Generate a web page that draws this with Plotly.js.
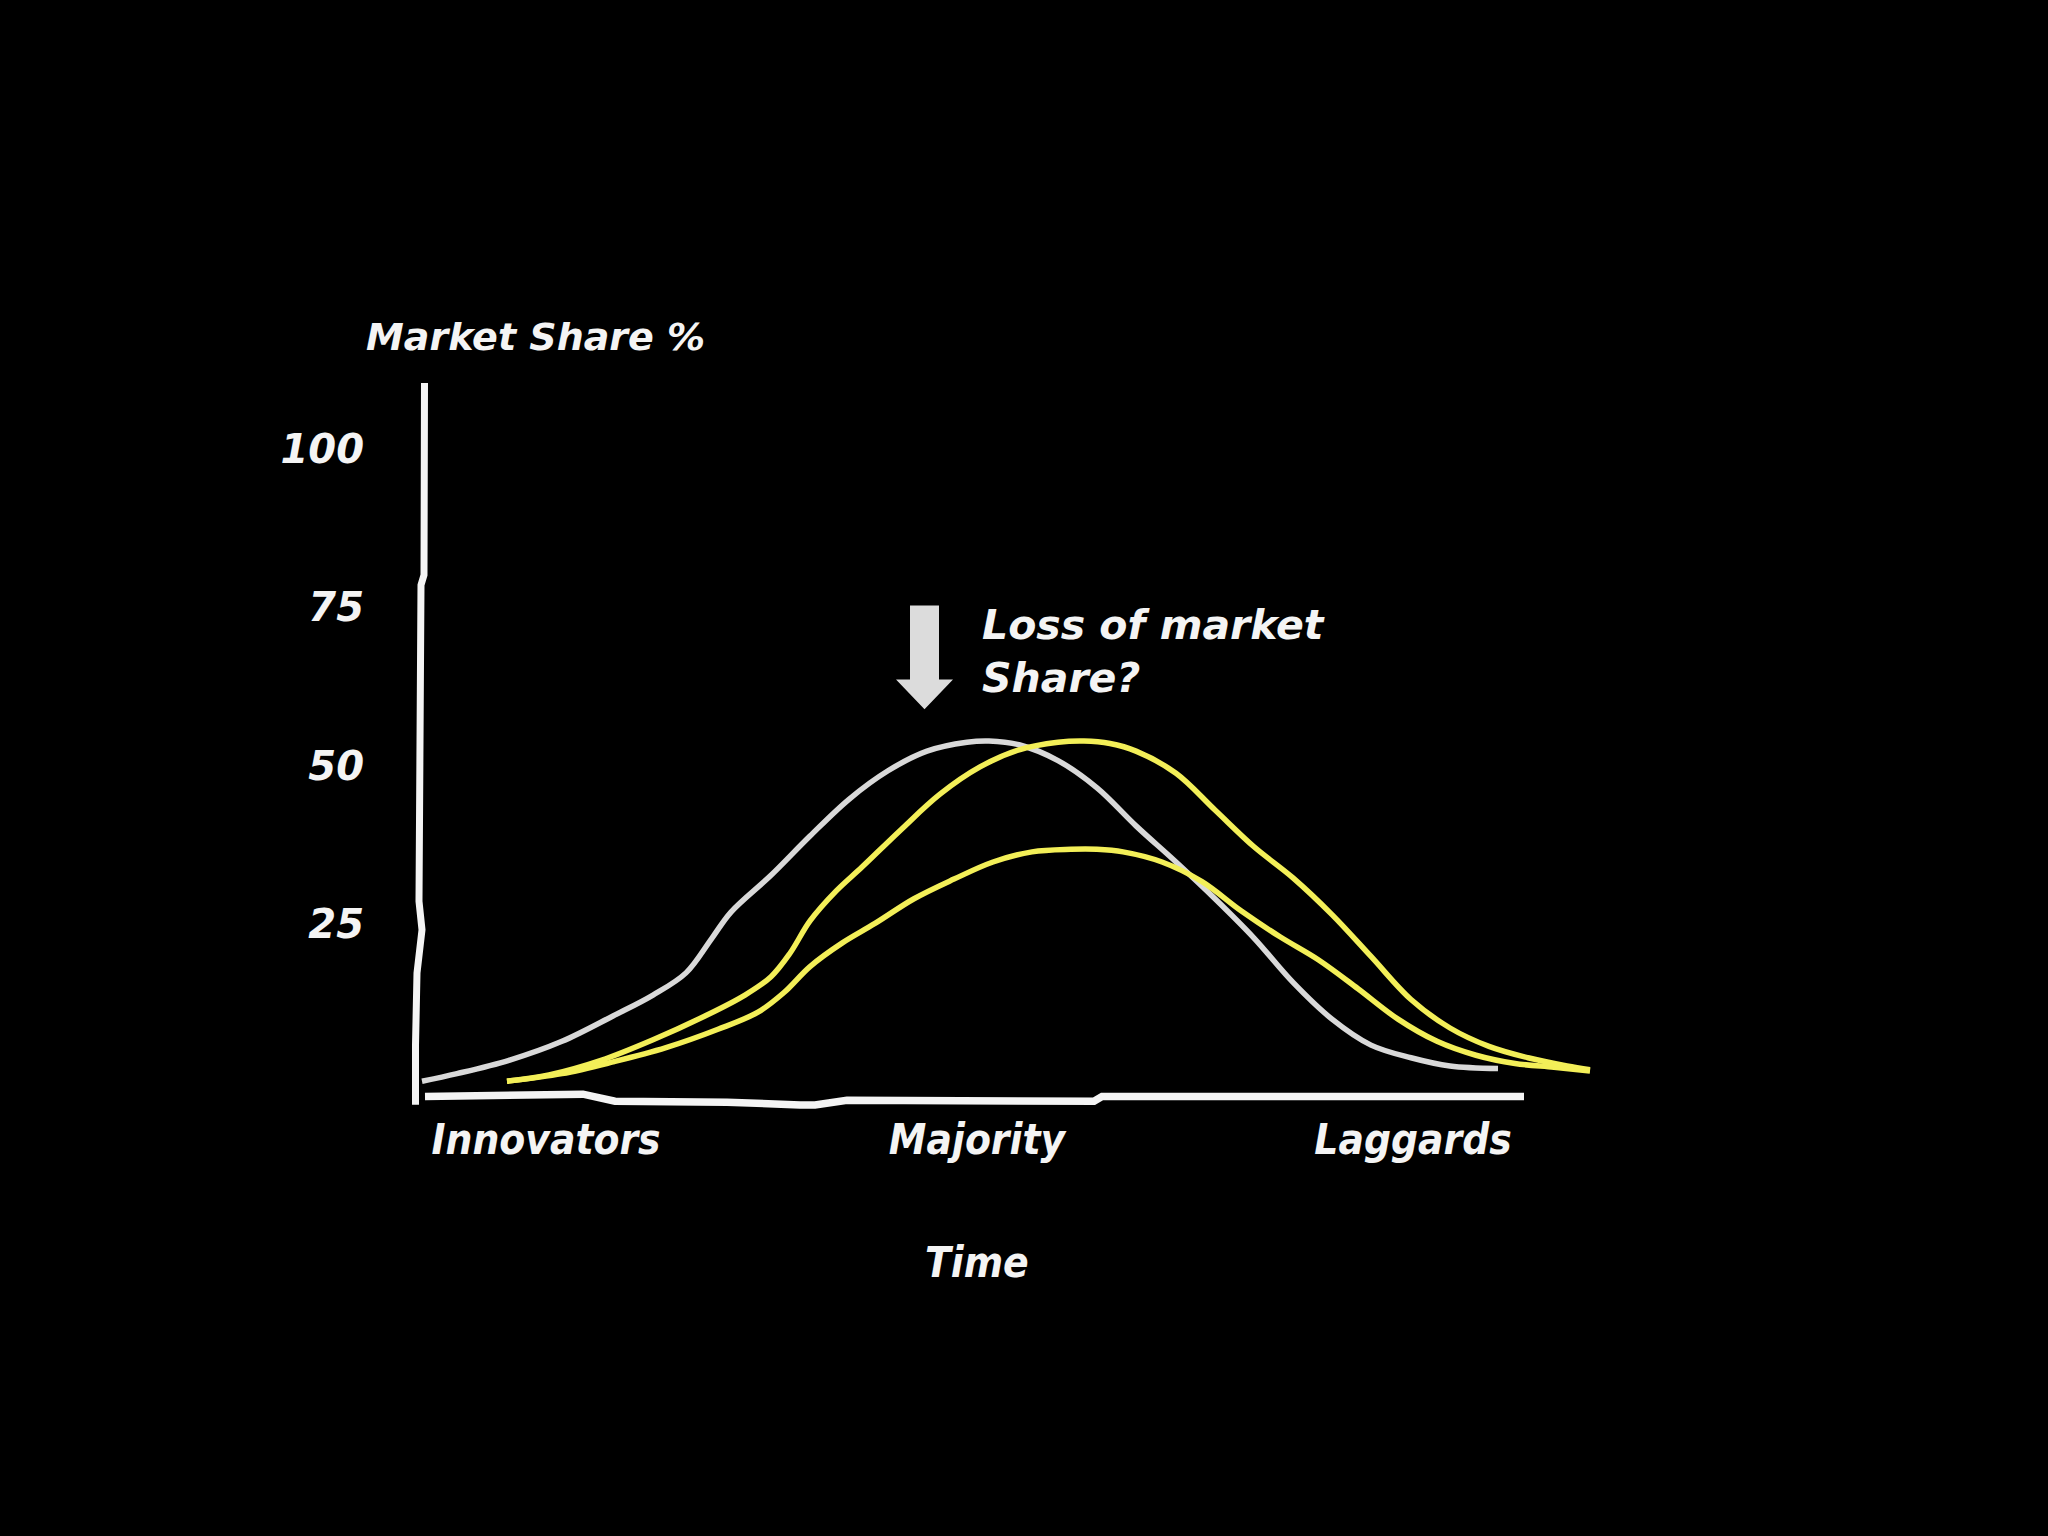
<!DOCTYPE html>
<html>
<head>
<meta charset="utf-8">
<script src="https://cdn.plot.ly/plotly-3.0.1.min.js"></script>
<style>html,body{margin:0;padding:0;background:#000;}#chart{width:2048px;height:1536px;}</style>
</head>
<body>
<div id="chart"></div>
<script>
// Time position (arbitrary units) and market share % values
const incumbentX = [0, 3.5, 8.7, 14.0, 19.1, 23.1, 26.4, 29.0, 30.9, 34.9, 38.8, 42.7, 46.6, 50.5, 54.5, 56.7, 59.7, 63.6, 67.5, 71.4, 75.4, 79.3, 83.2, 87.1, 91.0, 94.9, 98.9, 102.8, 107.6];
const incumbentY = [0.2, 1.4, 3.5, 6.5, 10.5, 13.8, 17.3, 22.8, 26.9, 32.7, 38.9, 44.7, 49.2, 52.3, 53.7, 53.9, 53.3, 50.8, 46.5, 40.5, 34.8, 29.0, 22.8, 15.8, 10.0, 5.9, 3.9, 2.6, 2.2];

const newcomerX = [8.5, 12.7, 17.9, 23.1, 28.3, 32.3, 34.9, 36.8, 38.8, 41.4, 44.0, 47.9, 51.8, 55.8, 59.7, 63.6, 66.2, 68.8, 71.4, 75.4, 79.3, 83.2, 87.1, 91.0, 94.9, 98.9, 102.8, 106.7, 110.6, 114.5, 116.8];
const newcomerY = [0.2, 1.2, 3.5, 6.75, 10.5, 13.8, 16.7, 20.4, 25.5, 30.2, 34.0, 39.9, 45.5, 49.8, 52.5, 53.7, 53.9, 53.5, 52.3, 48.8, 43.0, 37.2, 32.3, 26.5, 19.9, 13.1, 8.6, 5.7, 3.9, 2.6, 2.0];

const reducedX = [8.5, 14.0, 19.1, 24.4, 29.6, 33.6, 36.2, 38.8, 42.0, 45.3, 49.2, 53.2, 57.1, 61.0, 64.9, 67.5, 70.1, 74.0, 78.0, 81.9, 85.8, 89.7, 93.6, 97.6, 101.5, 105.4, 109.3, 113.2, 116.8];
const reducedY = [0.2, 1.4, 3.25, 5.5, 8.4, 11.1, 14.2, 18.3, 22.0, 25.1, 29.0, 32.1, 34.8, 36.4, 36.8, 36.8, 36.4, 34.8, 31.7, 27.1, 23.0, 19.3, 14.8, 10.0, 6.5, 4.3, 3.0, 2.4, 1.8];

const yTickVals = [25, 50, 75, 100];
const yTickText = ['25', '50', '75', '100'];
const xTickVals = [12.4, 55.5, 99.1];
const xTickText = ['Innovators', 'Majority', 'Laggards'];
const xAxisTitle = 'Time';
const yAxisTitle = 'Market Share %';
const calloutText = 'Loss of market<br>Share?';

const FONT = '"DejaVu Sans", "Liberation Sans", sans-serif';
const CFONT = '"DejaVu Sans Condensed", "DejaVu Sans", sans-serif';
const WHITE = '#f4f4f4';
const GREY = '#d9d9d9';
const YELLOW = '#f3ef58';

const traces = [
  {x: incumbentX, y: incumbentY, mode: 'lines', line: {color: GREY, width: 5.5, shape: 'spline', smoothing: 1}, hoverinfo: 'skip'},
  {x: newcomerX, y: newcomerY, mode: 'lines', line: {color: YELLOW, width: 5.5, shape: 'spline', smoothing: 1}, hoverinfo: 'skip'},
  {x: reducedX, y: reducedY, mode: 'lines', line: {color: YELLOW, width: 5.5, shape: 'spline', smoothing: 1}, hoverinfo: 'skip'}
];

const layout = {
  width: 2048, height: 1536,
  paper_bgcolor: '#000', plot_bgcolor: '#000',
  showlegend: false,
  margin: {l: 407, r: 426, t: 382.5, b: 425, pad: 0},
  title: {
    text: yAxisTitle,
    font: {family: FONT, size: 38, color: WHITE, style: 'italic', weight: 'bold'},
    xref: 'container', yref: 'container',
    x: 366 / 2048, xanchor: 'left',
    y: 1 - 337 / 1536, yanchor: 'middle'
  },
  xaxis: {
    range: [-1.5, 120],
    showgrid: false, zeroline: false, showline: false,
    tickmode: 'array', tickvals: xTickVals, ticktext: xTickText,
    ticks: '',
    tickfont: {family: CFONT, size: 42, color: WHITE, style: 'italic', weight: 'bold'},
    fixedrange: true
  },
  yaxis: {
    range: [-4.5, 110.4],
    showgrid: false, zeroline: false, showline: false,
    tickmode: 'array', tickvals: yTickVals, ticktext: yTickText,
    ticks: 'outside', ticklen: 34, tickcolor: 'rgba(0,0,0,0)',
    tickfont: {family: FONT, size: 40, color: WHITE, style: 'italic', weight: 'bold'},
    fixedrange: true
  },
  shapes: [
    // hand-drawn y axis line
    {type: 'path', xref: 'x', yref: 'y', line: {color: WHITE, width: 7},
     path: 'M 0.25,110.4 L 0.2,80.1 L -0.1,78.5 L -0.3,28.6 L 0,24.1 L -0.5,17.3 L -0.65,5.9 L -0.65,-3.5'},
    // hand-drawn x axis line
    {type: 'path', xref: 'x', yref: 'y', line: {color: WHITE, width: 7.5},
     path: 'M 0.3,-2.2 L 16.1,-1.85 L 19.3,-2.95 L 30.5,-3.1 L 37.8,-3.55 L 39.3,-3.55 L 42.5,-2.8 L 67.2,-2.95 L 68.0,-2.2 L 110.2,-2.2'},
    // down arrow pointing at the peak
    {type: 'path', xref: 'x', yref: 'y', fillcolor: '#dcdcdc', line: {width: 0},
     path: 'M 48.8,75.3 L 51.7,75.3 L 51.7,63.6 L 53.1,63.6 L 50.25,58.9 L 47.4,63.6 L 48.8,63.6 Z'}
  ],
  annotations: [
    {text: calloutText, xref: 'x', yref: 'y', x: 55.8, y: 68.0,
     xanchor: 'left', yanchor: 'middle', align: 'left', showarrow: false,
     font: {family: FONT, size: 41, color: WHITE, style: 'italic', weight: 'bold'}},
    {text: xAxisTitle, xref: 'x', yref: 'paper', x: 55.5, y: -0.2087,
     xanchor: 'center', yanchor: 'middle', showarrow: false,
     font: {family: CFONT, size: 42, color: WHITE, style: 'italic', weight: 'bold'}}
  ]
};

Plotly.newPlot('chart', traces, layout, {displayModeBar: false, staticPlot: true});
</script>
</body>
</html>
